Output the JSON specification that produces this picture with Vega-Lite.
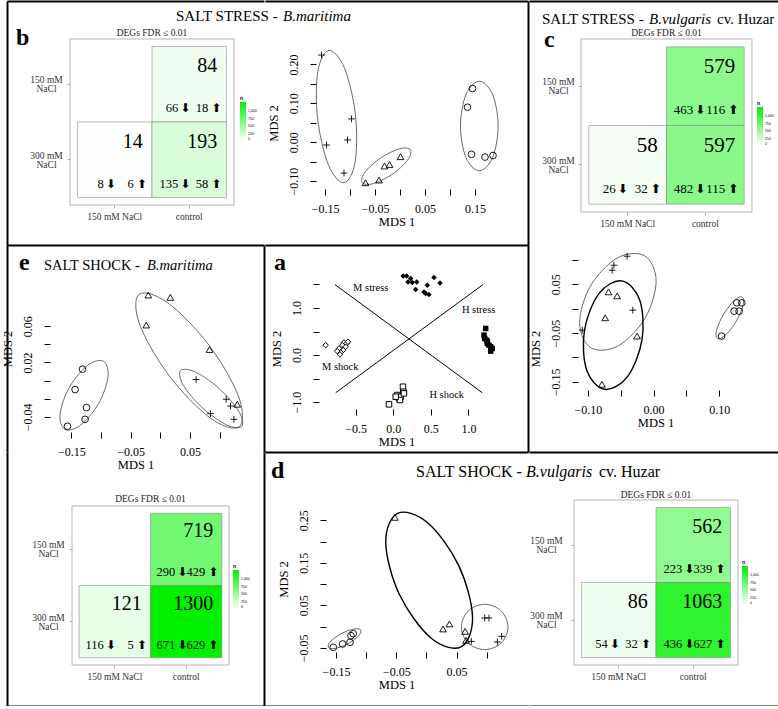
{
"$schema": "https://vega.github.io/schema/vega-lite/v6.json",
"padding": 0,
"background": "white",
"columns": 6,
"align": "each",
"spacing": 0,
"bounds": "flush",
"resolve": {"scale": {"color": "independent", "shape": "independent"}, "legend": {"color": "independent", "shape": "independent"}},
"config": {
 "view": {"stroke": null},
 "font": "Liberation Serif",
 "title": {"font": "Liberation Serif", "fontWeight": "normal", "color": "black"},
 "axis": {"labelFont": "Liberation Serif", "titleFont": "Liberation Serif", "labelColor": "black", "titleColor": "black", "tickColor": "black", "labelFontSize": 12, "titleFontSize": 12.5, "titleFontWeight": "normal"}
},
"datasets": {
 "b_heat": [
  {"col": "control", "row": "150 mM NaCl", "n": 84, "down": 66, "up": 18},
  {"col": "150 mM NaCl", "row": "300 mM NaCl", "n": 14, "down": 8, "up": 6},
  {"col": "control", "row": "300 mM NaCl", "n": 193, "down": 135, "up": 58}
 ],
 "c_heat": [
  {"col": "control", "row": "150 mM NaCl", "n": 579, "down": 463, "up": 116},
  {"col": "150 mM NaCl", "row": "300 mM NaCl", "n": 58, "down": 26, "up": 32},
  {"col": "control", "row": "300 mM NaCl", "n": 597, "down": 482, "up": 115}
 ],
 "e_heat": [
  {"col": "control", "row": "150 mM NaCl", "n": 719, "down": 290, "up": 429},
  {"col": "150 mM NaCl", "row": "300 mM NaCl", "n": 121, "down": 116, "up": 5},
  {"col": "control", "row": "300 mM NaCl", "n": 1300, "down": 671, "up": 629}
 ],
 "d_heat": [
  {"col": "control", "row": "150 mM NaCl", "n": 562, "down": 223, "up": 339},
  {"col": "150 mM NaCl", "row": "300 mM NaCl", "n": 86, "down": 54, "up": 32},
  {"col": "control", "row": "300 mM NaCl", "n": 1063, "down": 436, "up": 627}
 ],
 "b_pts": [
  {"x": -0.157, "y": 0.224, "g": "150 mM NaCl"}, {"x": -0.147, "y": -0.007, "g": "150 mM NaCl"}, {"x": -0.105, "y": 0.006, "g": "150 mM NaCl"}, {"x": -0.097, "y": 0.060, "g": "150 mM NaCl"}, {"x": -0.112, "y": -0.079, "g": "150 mM NaCl"},
  {"x": -0.069, "y": -0.104, "g": "300 mM NaCl"}, {"x": -0.042, "y": -0.097, "g": "300 mM NaCl"}, {"x": -0.031, "y": -0.061, "g": "300 mM NaCl"}, {"x": -0.021, "y": -0.057, "g": "300 mM NaCl"}, {"x": 0.001, "y": -0.037, "g": "300 mM NaCl"},
  {"x": 0.135, "y": 0.090, "g": "control"}, {"x": 0.145, "y": 0.138, "g": "control"}, {"x": 0.143, "y": -0.031, "g": "control"}, {"x": 0.170, "y": -0.038, "g": "control"}, {"x": 0.186, "y": -0.034, "g": "control"}
 ],
 "b_ell": [
  {"g": "150 mM NaCl", "k": 0, "x": -0.112, "y": -0.104}, {"g": "150 mM NaCl", "k": 1, "x": -0.0897, "y": -0.0504}, {"g": "150 mM NaCl", "k": 2, "x": -0.0892, "y": 0.0714}, {"g": "150 mM NaCl", "k": 3, "x": -0.1109, "y": 0.190}, {"g": "150 mM NaCl", "k": 4, "x": -0.142, "y": 0.236}, {"g": "150 mM NaCl", "k": 5, "x": -0.1643, "y": 0.1824}, {"g": "150 mM NaCl", "k": 6, "x": -0.1648, "y": 0.0606}, {"g": "150 mM NaCl", "k": 7, "x": -0.1431, "y": -0.058},
  {"g": "300 mM NaCl", "k": 0, "x": 0.0210, "y": -0.0195}, {"g": "300 mM NaCl", "k": 1, "x": 0.0147, "y": -0.0469}, {"g": "300 mM NaCl", "k": 2, "x": -0.0162, "y": -0.0828}, {"g": "300 mM NaCl", "k": 3, "x": -0.0537, "y": -0.1063}, {"g": "300 mM NaCl", "k": 4, "x": -0.0758, "y": -0.1035}, {"g": "300 mM NaCl", "k": 5, "x": -0.0695, "y": -0.0761}, {"g": "300 mM NaCl", "k": 6, "x": -0.0386, "y": -0.0402}, {"g": "300 mM NaCl", "k": 7, "x": -0.0011, "y": -0.0167},
  {"g": "control", "k": 0, "x": 0.1586, "y": 0.1567}, {"g": "control", "k": 1, "x": 0.1852, "y": 0.1230}, {"g": "control", "k": 2, "x": 0.1962, "y": 0.0418}, {"g": "control", "k": 3, "x": 0.1852, "y": -0.0394}, {"g": "control", "k": 4, "x": 0.1586, "y": -0.0731}, {"g": "control", "k": 5, "x": 0.1320, "y": -0.0394}, {"g": "control", "k": 6, "x": 0.1210, "y": 0.0418}, {"g": "control", "k": 7, "x": 0.1320, "y": 0.1230}
 ],
 "c_pts": [
  {"x": -0.0403, "y": 0.1073, "g": "150 mM NaCl"}, {"x": -0.0605, "y": 0.0889, "g": "150 mM NaCl"}, {"x": -0.0631, "y": 0.0786, "g": "150 mM NaCl"}, {"x": -0.0316, "y": -0.0032, "g": "150 mM NaCl"}, {"x": -0.1087, "y": -0.0441, "g": "150 mM NaCl"},
  {"x": -0.0687, "y": 0.0343, "g": "300 mM NaCl"}, {"x": -0.0555, "y": 0.0261, "g": "300 mM NaCl"}, {"x": -0.0737, "y": -0.0189, "g": "300 mM NaCl"}, {"x": -0.0251, "y": -0.0563, "g": "300 mM NaCl"}, {"x": -0.0787, "y": -0.1551, "g": "300 mM NaCl"},
  {"x": 0.1269, "y": 0.0118, "g": "control"}, {"x": 0.1345, "y": 0.0118, "g": "control"}, {"x": 0.1228, "y": -0.0052, "g": "control"}, {"x": 0.1304, "y": -0.0052, "g": "control"}, {"x": 0.1036, "y": -0.0563, "g": "control"}
 ],
 "c_ell": [
  {"g": "150 mM NaCl", "k": 0, "x": -0.0138, "y": 0.1083}, {"g": "150 mM NaCl", "k": 1, "x": 0.0039, "y": 0.0576}, {"g": "150 mM NaCl", "k": 2, "x": -0.0126, "y": -0.0187}, {"g": "150 mM NaCl", "k": 3, "x": -0.0535, "y": -0.0760}, {"g": "150 mM NaCl", "k": 4, "x": -0.0950, "y": -0.0807}, {"g": "150 mM NaCl", "k": 5, "x": -0.1127, "y": -0.0300}, {"g": "150 mM NaCl", "k": 6, "x": -0.0962, "y": 0.0463}, {"g": "150 mM NaCl", "k": 7, "x": -0.0553, "y": 0.1036},
  {"g": "300 mM NaCl", "k": 0, "x": -0.0483, "y": 0.0567}, {"g": "300 mM NaCl", "k": 1, "x": -0.0211, "y": 0.0176}, {"g": "300 mM NaCl", "k": 2, "x": -0.0176, "y": -0.0637}, {"g": "300 mM NaCl", "k": 3, "x": -0.0397, "y": -0.1394}, {"g": "300 mM NaCl", "k": 4, "x": -0.0747, "y": -0.1653}, {"g": "300 mM NaCl", "k": 5, "x": -0.1019, "y": -0.1262}, {"g": "300 mM NaCl", "k": 6, "x": -0.1054, "y": -0.0449}, {"g": "300 mM NaCl", "k": 7, "x": -0.0833, "y": 0.0308},
  {"g": "control", "k": 0, "x": 0.1353, "y": 0.0236}, {"g": "control", "k": 1, "x": 0.1364, "y": 0.0058}, {"g": "control", "k": 2, "x": 0.1258, "y": -0.0266}, {"g": "control", "k": 3, "x": 0.1096, "y": -0.0544}, {"g": "control", "k": 4, "x": 0.0973, "y": -0.0614}, {"g": "control", "k": 5, "x": 0.0962, "y": -0.0436}, {"g": "control", "k": 6, "x": 0.1068, "y": -0.0112}, {"g": "control", "k": 7, "x": 0.1230, "y": 0.0166}
 ],
 "e_pts": [
  {"x": -0.0203, "y": 0.0943, "g": "300 mM NaCl"}, {"x": 0.0169, "y": 0.0917, "g": "300 mM NaCl"}, {"x": -0.0237, "y": 0.0612, "g": "300 mM NaCl"}, {"x": 0.0830, "y": 0.0343, "g": "300 mM NaCl"}, {"x": 0.1298, "y": -0.0260, "g": "300 mM NaCl"},
  {"x": 0.0604, "y": 0.0012, "g": "150 mM NaCl"}, {"x": 0.1112, "y": -0.0205, "g": "150 mM NaCl"}, {"x": 0.1185, "y": -0.0279, "g": "150 mM NaCl"}, {"x": 0.0846, "y": -0.0363, "g": "150 mM NaCl"}, {"x": 0.1242, "y": -0.0426, "g": "150 mM NaCl"},
  {"x": -0.1314, "y": 0.0126, "g": "control"}, {"x": -0.1439, "y": -0.0098, "g": "control"}, {"x": -0.1246, "y": -0.0297, "g": "control"}, {"x": -0.1270, "y": -0.0426, "g": "control"}, {"x": -0.1568, "y": -0.0503, "g": "control"}
 ],
 "e_ell": [
  {"g": "300 mM NaCl", "k": 0, "x": 0.1329, "y": -0.0508}, {"g": "300 mM NaCl", "k": 1, "x": 0.0842, "y": -0.0411}, {"g": "300 mM NaCl", "k": 2, "x": 0.0147, "y": 0.0056}, {"g": "300 mM NaCl", "k": 3, "x": -0.0350, "y": 0.0621}, {"g": "300 mM NaCl", "k": 4, "x": -0.0357, "y": 0.0952}, {"g": "300 mM NaCl", "k": 5, "x": 0.0130, "y": 0.0855}, {"g": "300 mM NaCl", "k": 6, "x": 0.0825, "y": 0.0388}, {"g": "300 mM NaCl", "k": 7, "x": 0.1322, "y": -0.0177},
  {"g": "150 mM NaCl", "k": 0, "x": 0.1374, "y": -0.0504}, {"g": "150 mM NaCl", "k": 1, "x": 0.1120, "y": -0.0488}, {"g": "150 mM NaCl", "k": 2, "x": 0.0713, "y": -0.0301}, {"g": "150 mM NaCl", "k": 3, "x": 0.0390, "y": -0.0054}, {"g": "150 mM NaCl", "k": 4, "x": 0.0342, "y": 0.0110}, {"g": "150 mM NaCl", "k": 5, "x": 0.0596, "y": 0.0094}, {"g": "150 mM NaCl", "k": 6, "x": 0.1003, "y": -0.0093}, {"g": "150 mM NaCl", "k": 7, "x": 0.1326, "y": -0.0340},
  {"g": "control", "k": 0, "x": -0.0960, "y": 0.0214}, {"g": "control", "k": 1, "x": -0.0883, "y": 0.0040}, {"g": "control", "k": 2, "x": -0.1042, "y": -0.0252}, {"g": "control", "k": 3, "x": -0.1345, "y": -0.0490}, {"g": "control", "k": 4, "x": -0.1614, "y": -0.0536}, {"g": "control", "k": 5, "x": -0.1691, "y": -0.0362}, {"g": "control", "k": 6, "x": -0.1532, "y": -0.0070}, {"g": "control", "k": 7, "x": -0.1229, "y": 0.0168}
 ],
 "d_pts": [
  {"x": -0.0523, "y": 0.2571, "g": "300 mM NaCl"}, {"x": 0.0276, "y": -0.0057, "g": "300 mM NaCl"}, {"x": 0.0381, "y": 0.0061, "g": "300 mM NaCl"}, {"x": 0.0641, "y": -0.0114, "g": "300 mM NaCl"}, {"x": 0.0657, "y": -0.0326, "g": "300 mM NaCl"},
  {"x": 0.0967, "y": 0.0202, "g": "150 mM NaCl"}, {"x": 0.1038, "y": 0.0202, "g": "150 mM NaCl"}, {"x": 0.0745, "y": -0.0349, "g": "150 mM NaCl"}, {"x": 0.1176, "y": -0.0363, "g": "150 mM NaCl"}, {"x": 0.1248, "y": -0.0231, "g": "150 mM NaCl"},
  {"x": -0.1545, "y": -0.0490, "g": "control"}, {"x": -0.1391, "y": -0.0410, "g": "control"}, {"x": -0.1268, "y": -0.0373, "g": "control"}, {"x": -0.1252, "y": -0.0215, "g": "control"}, {"x": -0.1214, "y": -0.0168, "g": "control"}
 ],
 "d_ell": [
  {"g": "300 mM NaCl", "k": 0, "x": 0.0568, "y": -0.0484}, {"g": "300 mM NaCl", "k": 1, "x": 0.0065, "y": -0.0258}, {"g": "300 mM NaCl", "k": 2, "x": -0.0450, "y": 0.0759}, {"g": "300 mM NaCl", "k": 3, "x": -0.0675, "y": 0.1970}, {"g": "300 mM NaCl", "k": 4, "x": -0.0478, "y": 0.2666}, {"g": "300 mM NaCl", "k": 5, "x": 0.0025, "y": 0.2440}, {"g": "300 mM NaCl", "k": 6, "x": 0.0540, "y": 0.1423}, {"g": "300 mM NaCl", "k": 7, "x": 0.0765, "y": 0.0212},
  {"g": "150 mM NaCl", "k": 0, "x": 0.1353, "y": -0.0010}, {"g": "150 mM NaCl", "k": 1, "x": 0.1240, "y": -0.0388}, {"g": "150 mM NaCl", "k": 2, "x": 0.0967, "y": -0.0544}, {"g": "150 mM NaCl", "k": 3, "x": 0.0694, "y": -0.0388}, {"g": "150 mM NaCl", "k": 4, "x": 0.0581, "y": -0.0010}, {"g": "150 mM NaCl", "k": 5, "x": 0.0694, "y": 0.0368}, {"g": "150 mM NaCl", "k": 6, "x": 0.0967, "y": 0.0524}, {"g": "150 mM NaCl", "k": 7, "x": 0.1240, "y": 0.0368},
  {"g": "control", "k": 0, "x": -0.1088, "y": -0.0086}, {"g": "control", "k": 1, "x": -0.1134, "y": -0.0233}, {"g": "control", "k": 2, "x": -0.1312, "y": -0.0411}, {"g": "control", "k": 3, "x": -0.1516, "y": -0.0515}, {"g": "control", "k": 4, "x": -0.1628, "y": -0.0486}, {"g": "control", "k": 5, "x": -0.1582, "y": -0.0339}, {"g": "control", "k": 6, "x": -0.1404, "y": -0.0161}, {"g": "control", "k": 7, "x": -0.1200, "y": -0.0057}
 ],
 "a_pts": [
  {"x": 0.133, "y": 1.680, "g": "M stress"}, {"x": 0.178, "y": 1.680, "g": "M stress"}, {"x": 0.232, "y": 1.625, "g": "M stress"}, {"x": 0.196, "y": 1.553, "g": "M stress"}, {"x": 0.253, "y": 1.540, "g": "M stress"}, {"x": 0.312, "y": 1.553, "g": "M stress"}, {"x": 0.298, "y": 1.392, "g": "M stress"}, {"x": 0.453, "y": 1.483, "g": "M stress"}, {"x": 0.542, "y": 1.646, "g": "M stress"}, {"x": 0.622, "y": 1.532, "g": "M stress"}, {"x": 0.431, "y": 1.307, "g": "M stress"}, {"x": 0.475, "y": 1.286, "g": "M stress"}, {"x": 0.409, "y": 1.341, "g": "M stress"},
  {"x": 1.230, "y": 0.566, "g": "H stress"}, {"x": 1.208, "y": 0.424, "g": "H stress"}, {"x": 1.243, "y": 0.318, "g": "H stress"}, {"x": 1.252, "y": 0.248, "g": "H stress"}, {"x": 1.274, "y": 0.212, "g": "H stress"}, {"x": 1.297, "y": 0.176, "g": "H stress"}, {"x": 1.318, "y": 0.142, "g": "H stress"}, {"x": 1.297, "y": 0.085, "g": "H stress"}, {"x": 1.252, "y": 0.282, "g": "H stress"}, {"x": 1.217, "y": 0.354, "g": "H stress"},
  {"x": -0.900, "y": 0.212, "g": "M shock"}, {"x": -0.656, "y": 0.269, "g": "M shock"}, {"x": -0.621, "y": 0.248, "g": "M shock"}, {"x": -0.679, "y": 0.212, "g": "M shock"}, {"x": -0.634, "y": 0.176, "g": "M shock"}, {"x": -0.723, "y": 0.142, "g": "M shock"}, {"x": -0.666, "y": 0.106, "g": "M shock"}, {"x": -0.700, "y": 0.057, "g": "M shock"}, {"x": -0.746, "y": 0.085, "g": "M shock"}, {"x": -0.710, "y": 0.015, "g": "M shock"}, {"x": -0.603, "y": 0.282, "g": "M shock"},
  {"x": 0.129, "y": -0.671, "g": "H shock"}, {"x": 0.133, "y": -0.777, "g": "H shock"}, {"x": 0.053, "y": -0.847, "g": "H shock"}, {"x": 0.076, "y": -0.918, "g": "H shock"}, {"x": 0.098, "y": -0.883, "g": "H shock"}, {"x": 0.089, "y": -0.953, "g": "H shock"}, {"x": 0.142, "y": -0.812, "g": "H shock"}, {"x": 0.032, "y": -0.883, "g": "H shock"}, {"x": -0.057, "y": -1.045, "g": "H shock"}
 ],
 "a_lines": [
  {"x": -0.776, "y": 1.497, "x2": 1.185, "y2": -0.799},
  {"x": -0.767, "y": -0.799, "x2": 1.194, "y2": 1.497}
 ],
 "a_lab": [
  {"x": -0.30, "y": 1.42, "label": "M stress"},
  {"x": 1.137, "y": 0.953, "label": "H stress"},
  {"x": -0.706, "y": -0.254, "label": "M shock"},
  {"x": 0.712, "y": -0.854, "label": "H shock"}
 ]
},
"concat": [
 {"width": 0.01, "height": 0.01, "data": {"values": []}, "mark": "point", "title": {"text": "SALT STRESS -", "orient": "bottom", "anchor": "start", "frame": "group", "dx": 170, "offset": 21, "baseline": "alphabetic", "fontSize": 15}},
 {"width": 0.01, "height": 0.01, "data": {"values": []}, "mark": "point", "title": {"text": "b", "orient": "bottom", "anchor": "start", "frame": "group", "dx": 9, "offset": 45, "baseline": "alphabetic", "fontSize": 24, "fontWeight": "bold"}},
 {"width": 0.01, "height": 0.01, "data": {"values": []}, "mark": "point", "title": {"text": "B.maritima", "orient": "bottom", "anchor": "start", "frame": "group", "dx": 19, "offset": 21, "baseline": "alphabetic", "fontSize": 15, "fontStyle": "italic"}},
 {"width": 0.01, "height": 0.01, "data": {"values": []}, "mark": "point", "title": {"text": "SALT STRESS -", "orient": "bottom", "anchor": "start", "frame": "group", "dx": 277, "offset": 24, "baseline": "alphabetic", "fontSize": 15}},
 {"width": 0.01, "height": 0.01, "data": {"values": []}, "mark": "point", "title": {"text": "B.vulgaris", "orient": "bottom", "anchor": "start", "frame": "group", "dx": 121, "offset": 24, "baseline": "alphabetic", "fontSize": 15, "fontStyle": "italic"}},
 {"width": 0.01, "height": 0.01, "data": {"values": []}, "mark": "point", "title": {"text": "cv. Huzar", "orient": "bottom", "anchor": "start", "frame": "group", "dx": 188, "offset": 24, "baseline": "alphabetic", "fontSize": 15}},

 {"width": 0.01, "height": 0.01, "data": {"values": []}, "mark": "point", "title": {"text": "SALT SHOCK -", "orient": "bottom", "anchor": "start", "frame": "group", "dx": 38, "offset": 269, "baseline": "alphabetic", "fontSize": 14.5}},
 {"width": 257, "height": 244, "data": {"name": "b_heat"},
  "resolve": {"axis": {"x": "independent", "y": "independent"}},
  "encoding": {
   "x": {"field": "col", "type": "nominal", "scale": {"domain": ["150 mM NaCl", "control"], "paddingInner": 0, "paddingOuter": 0.7237, "align": 0.6529}, "axis": null},
   "y": {"field": "row", "type": "nominal", "scale": {"domain": ["150 mM NaCl", "300 mM NaCl"], "paddingInner": 0, "paddingOuter": 0.617, "align": 0.4893}, "axis": null}
  },
  "layer": [
   {"data": {"values": [{}]}, "mark": {"type": "rect", "fill": "transparent", "stroke": "#b5b5b5", "strokeWidth": 1}, "encoding": {"x": {"datum": "150 mM NaCl", "type": "nominal", "bandPosition": -0.1, "axis": null}, "x2": {"datum": "control", "bandPosition": 1.1}, "y": {"datum": "150 mM NaCl", "type": "nominal", "bandPosition": -0.1, "axis": null}, "y2": {"datum": "300 mM NaCl", "bandPosition": 1.1}}},
   {"mark": {"type": "rect", "stroke": "#8c8c8c", "strokeWidth": 0.6},
    "encoding": {
     "x": {"field": "col", "type": "nominal", "axis": {"orient": "bottom", "offset": -40, "title": null, "labelAngle": 0, "labelFont": "Liberation Serif", "labelFontSize": 9.5, "labelColor": "#333", "labelPadding": 3, "tickSize": 3, "tickColor": "#aaa", "domain": false, "grid": false, "bandPosition": 0.5}},
     "y": {"field": "row", "type": "nominal", "axis": {"orient": "left", "offset": -63, "title": null, "labelExpr": "[slice(datum.label, 0, 6), 'NaCl']", "labelAlign": "center", "labelBaseline": "middle", "labelLineHeight": 9, "labelOffset": -4, "labelFont": "Liberation Serif", "labelFontSize": 9.5, "labelColor": "#333", "labelPadding": 21, "tickSize": 3, "tickColor": "#aaa", "domain": false, "grid": false, "bandPosition": 0.5}},
     "color": {"field": "n", "type": "quantitative", "scale": {"domain": [0, 1300], "range": ["#ffffff", "#00f000"], "interpolate": "rgb"}, "legend": {"title": "n", "orient": "none", "legendX": 233, "legendY": 95, "direction": "vertical", "gradientLength": 39, "gradientThickness": 6, "values": [0, 250, 500, 750, 1000], "titleFontSize": 5, "titleFont": "Liberation Sans", "titlePadding": 1, "labelFontSize": 3.5, "labelFont": "Liberation Sans", "labelOffset": 2, "padding": 0, "gradientStrokeWidth": 0, "labelOverlap": false}}
    }},
   {"mark": {"type": "text", "align": "right", "baseline": "alphabetic", "dx": 28, "dy": -12, "fontSize": 20, "font": "Liberation Serif"}, "encoding": {"text": {"field": "n", "type": "nominal"}}},
   {"mark": {"type": "text", "align": "right", "baseline": "alphabetic", "dx": -11, "dy": 28, "fontSize": 12.5, "font": "Liberation Serif"}, "encoding": {"text": {"field": "down", "type": "nominal"}}},
   {"mark": {"type": "text", "align": "center", "baseline": "alphabetic", "dx": -4, "dy": 28, "fontSize": 12, "font": "DejaVu Sans", "text": "⬇"}},
   {"mark": {"type": "text", "align": "right", "baseline": "alphabetic", "dx": 19, "dy": 28, "fontSize": 12.5, "font": "Liberation Serif"}, "encoding": {"text": {"field": "up", "type": "nominal"}}},
   {"mark": {"type": "text", "align": "center", "baseline": "alphabetic", "dx": 27, "dy": 28, "fontSize": 12, "font": "DejaVu Sans", "text": "⬆"}},
   {"mark": {"type": "point", "opacity": 0}, "encoding": {"x": {"field": "col", "type": "nominal", "axis": {"orient": "top", "offset": 0, "domain": true, "domainColor": "black", "domainWidth": 2, "ticks": false, "labels": false, "title": null, "grid": false}}, "y": {"field": "row", "type": "nominal", "axis": {"orient": "left", "offset": 0, "domain": true, "domainColor": "black", "domainWidth": 2, "ticks": false, "labels": false, "title": null, "grid": false}}}},
   {"mark": {"type": "point", "opacity": 0}, "encoding": {"x": {"field": "col", "type": "nominal", "axis": {"orient": "bottom", "offset": 0, "domain": true, "domainColor": "black", "domainWidth": 2, "ticks": false, "labels": false, "title": null, "grid": false}}}}
  ],
  "title": {"text": "DEGs FDR ≤ 0.01", "orient": "top", "anchor": "start", "align": "center", "frame": "group", "dx": 145, "offset": -44, "baseline": "alphabetic", "fontSize": 9.5, "color": "#222"}
 },
 {"width": 0.01, "height": 0.01, "data": {"values": []}, "mark": "point", "title": {"text": "B.maritima", "orient": "bottom", "anchor": "start", "frame": "group", "dx": -117, "offset": 269, "baseline": "alphabetic", "fontSize": 14.5, "fontStyle": "italic"}},
 {"width": 263, "height": 244,
  "resolve": {"axis": {"x": "independent", "y": "independent"}},
  "encoding": {
   "x": {"field": "x", "type": "quantitative", "scale": {"domain": [-0.27, 0.256], "nice": false, "zero": false}, "axis": null},
   "y": {"field": "y", "type": "quantitative", "scale": {"domain": [-0.2638, 0.3628], "nice": false, "zero": false}, "axis": null}
  },
  "layer": [
   {"data": {"values": [{}]}, "mark": {"type": "rect", "fill": "transparent", "stroke": "black", "strokeWidth": 1}, "encoding": {"x": {"datum": -0.168, "type": "quantitative", "axis": null}, "x2": {"datum": 0.2}, "y": {"datum": -0.12, "type": "quantitative", "axis": null}, "y2": {"datum": 0.237}}},
   {"data": {"name": "b_ell"}, "mark": {"type": "line", "interpolate": "cardinal-closed", "stroke": "#444", "strokeWidth": 0.8},
    "encoding": {
     "x": {"field": "x", "type": "quantitative", "axis": {"orient": "bottom", "offset": -56, "title": "MDS 1", "values": [-0.15, -0.1, -0.05, 0, 0.05, 0.1, 0.15], "labelExpr": "indexof([-0.15, -0.05, 0.05, 0.15], datum.value) >= 0 ? format(datum.value, '.2f') : ''", "labelFont": "Liberation Serif", "labelFontSize": 12, "titleFont": "Liberation Serif", "titleFontSize": 12.5, "titleFontWeight": "normal", "tickSize": 6, "labelPadding": 8, "domain": false, "grid": false, "titlePadding": 1, "labelOverlap": false, "labelFlush": false}},
     "y": {"field": "y", "type": "quantitative", "axis": {"orient": "left", "offset": -51, "title": "MDS 2", "values": [-0.1, -0.05, 0, 0.05, 0.1, 0.15, 0.2], "labelExpr": "indexof([-0.1, 0, 0.1, 0.2], datum.value) >= 0 ? format(datum.value, '.2f') : ''", "labelAngle": -90, "labelAlign": "center", "labelBaseline": "bottom", "labelFont": "Liberation Serif", "labelFontSize": 12, "titleFont": "Liberation Serif", "titleFontSize": 12.5, "titleFontWeight": "normal", "tickSize": 6, "labelPadding": 10, "domain": false, "grid": false, "titlePadding": 7, "labelOverlap": false, "labelFlush": false}},
     "detail": {"field": "g", "type": "nominal"}, "order": {"field": "k", "type": "quantitative"}
    }},
   {"data": {"name": "b_pts"}, "mark": {"type": "point", "filled": false, "stroke": "black", "strokeWidth": 0.9, "size": 45, "opacity": 1}, "encoding": {"shape": {"field": "g", "type": "nominal", "scale": {"domain": ["150 mM NaCl", "300 mM NaCl", "control"], "range": ["M-1,0L1,0M0,-1L0,1", "triangle-up", "circle"]}, "legend": null}}},
   {"data": {"name": "b_pts"}, "mark": {"type": "point", "opacity": 0}, "encoding": {"x": {"field": "x", "type": "quantitative", "axis": {"orient": "top", "offset": 0, "domain": true, "domainColor": "black", "domainWidth": 2, "ticks": false, "labels": false, "title": null, "grid": false}}, "y": {"field": "y", "type": "quantitative", "axis": {"orient": "right", "offset": 0, "domain": true, "domainColor": "black", "domainWidth": 2, "ticks": false, "labels": false, "title": null, "grid": false}}}},
   {"data": {"name": "b_pts"}, "mark": {"type": "point", "opacity": 0}, "encoding": {"x": {"field": "x", "type": "quantitative", "axis": {"orient": "bottom", "offset": 0, "domain": true, "domainColor": "black", "domainWidth": 2, "ticks": false, "labels": false, "title": null, "grid": false}}}}
  ]
 },
 {"width": 0.01, "height": 0.01, "data": {"values": []}, "mark": "point", "title": {"text": "c", "orient": "bottom", "anchor": "start", "frame": "group", "dx": 16, "offset": 46, "baseline": "alphabetic", "fontSize": 24, "fontWeight": "bold"}},
 {"width": 253, "height": 244, "data": {"name": "c_heat"},
  "resolve": {"axis": {"x": "independent", "y": "independent"}},
  "encoding": {
   "x": {"field": "col", "type": "nominal", "scale": {"domain": ["150 mM NaCl", "control"], "paddingInner": 0, "paddingOuter": 0.6275, "align": 0.6127}, "axis": null},
   "y": {"field": "row", "type": "nominal", "scale": {"domain": ["150 mM NaCl", "300 mM NaCl"], "paddingInner": 0, "paddingOuter": 0.5515, "align": 0.5288}, "axis": null}
  },
  "layer": [
   {"data": {"values": [{}]}, "mark": {"type": "rect", "fill": "transparent", "stroke": "#b5b5b5", "strokeWidth": 1}, "encoding": {"x": {"datum": "150 mM NaCl", "type": "nominal", "bandPosition": -0.1, "axis": null}, "x2": {"datum": "control", "bandPosition": 1.1}, "y": {"datum": "150 mM NaCl", "type": "nominal", "bandPosition": -0.1, "axis": null}, "y2": {"datum": "300 mM NaCl", "bandPosition": 1.1}}},
   {"mark": {"type": "rect", "stroke": "#8c8c8c", "strokeWidth": 0.6},
    "encoding": {
     "x": {"field": "col", "type": "nominal", "axis": {"orient": "bottom", "offset": -33, "title": null, "labelAngle": 0, "labelFont": "Liberation Serif", "labelFontSize": 9.5, "labelColor": "#333", "labelPadding": 3, "tickSize": 3, "tickColor": "#aaa", "domain": false, "grid": false, "bandPosition": 0.5}},
     "y": {"field": "row", "type": "nominal", "axis": {"orient": "left", "offset": -52, "title": null, "labelExpr": "[slice(datum.label, 0, 6), 'NaCl']", "labelAlign": "center", "labelBaseline": "middle", "labelLineHeight": 9, "labelOffset": -4, "labelFont": "Liberation Serif", "labelFontSize": 9.5, "labelColor": "#333", "labelPadding": 20, "tickSize": 3, "tickColor": "#aaa", "domain": false, "grid": false, "bandPosition": 0.5}},
     "color": {"field": "n", "type": "quantitative", "scale": {"domain": [0, 1300], "range": ["#ffffff", "#00f000"], "interpolate": "rgb"}, "legend": {"title": "n", "orient": "none", "legendX": 228, "legendY": 100, "direction": "vertical", "gradientLength": 39, "gradientThickness": 6, "values": [0, 250, 500, 750, 1000], "titleFontSize": 5, "titleFont": "Liberation Sans", "titlePadding": 1, "labelFontSize": 3.5, "labelFont": "Liberation Sans", "labelOffset": 2, "padding": 0, "gradientStrokeWidth": 0, "labelOverlap": false}}
    }},
   {"mark": {"type": "text", "align": "right", "baseline": "alphabetic", "dx": 30, "dy": -13, "fontSize": 21, "font": "Liberation Serif"}, "encoding": {"text": {"field": "n", "type": "nominal"}}},
   {"mark": {"type": "text", "align": "right", "baseline": "alphabetic", "dx": -12, "dy": 28, "fontSize": 13, "font": "Liberation Serif"}, "encoding": {"text": {"field": "down", "type": "nominal"}}},
   {"mark": {"type": "text", "align": "center", "baseline": "alphabetic", "dx": -5, "dy": 28, "fontSize": 12.5, "font": "DejaVu Sans", "text": "⬇"}},
   {"mark": {"type": "text", "align": "right", "baseline": "alphabetic", "dx": 20, "dy": 28, "fontSize": 13, "font": "Liberation Serif"}, "encoding": {"text": {"field": "up", "type": "nominal"}}},
   {"mark": {"type": "text", "align": "center", "baseline": "alphabetic", "dx": 28, "dy": 28, "fontSize": 12.5, "font": "DejaVu Sans", "text": "⬆"}},
   {"mark": {"type": "point", "opacity": 0}, "encoding": {"x": {"field": "col", "type": "nominal", "axis": {"orient": "top", "offset": 0, "domain": true, "domainColor": "black", "domainWidth": 2, "ticks": false, "labels": false, "title": null, "grid": false}}, "y": {"field": "row", "type": "nominal", "axis": {"orient": "right", "offset": 0, "domain": true, "domainColor": "black", "domainWidth": 2, "ticks": false, "labels": false, "title": null, "grid": false}}}}
  ],
  "title": {"text": "DEGs FDR ≤ 0.01", "orient": "top", "anchor": "start", "align": "center", "frame": "group", "dx": 137.5, "offset": -44, "baseline": "alphabetic", "fontSize": 9.5, "color": "#222"}
 },

 {"width": 0.01, "height": 0.01, "data": {"values": []}, "mark": "point", "title": {"text": "e", "orient": "bottom", "anchor": "start", "frame": "group", "dx": 13, "offset": 25, "baseline": "alphabetic", "fontSize": 24, "fontWeight": "bold"}},
 {"width": 257, "height": 207,
  "resolve": {"axis": {"x": "independent", "y": "independent"}},
  "encoding": {
   "x": {"field": "x", "type": "quantitative", "scale": {"domain": [-0.2588, 0.175], "nice": false, "zero": false}, "axis": null},
   "y": {"field": "y", "type": "quantitative", "scale": {"domain": [-0.0786, 0.1494], "nice": false, "zero": false}, "axis": null}
  },
  "layer": [
   {"data": {"values": [{}]}, "mark": {"type": "rect", "fill": "transparent", "stroke": "black", "strokeWidth": 1}, "encoding": {"x": {"datum": -0.1862, "type": "quantitative", "axis": null}, "x2": {"datum": 0.1412}, "y": {"datum": -0.0566, "type": "quantitative", "axis": null}, "y2": {"datum": 0.0987}}},
   {"data": {"name": "e_ell"}, "mark": {"type": "line", "interpolate": "cardinal-closed", "stroke": "#444", "strokeWidth": 0.8},
    "encoding": {
     "x": {"field": "x", "type": "quantitative", "axis": {"orient": "bottom", "offset": -20, "title": "MDS 1", "values": [-0.15, -0.1, -0.05, 0, 0.05, 0.1], "labelExpr": "indexof([-0.15, -0.05, 0.05], datum.value) >= 0 ? format(datum.value, '.2f') : ''", "labelFont": "Liberation Serif", "labelFontSize": 12, "titleFont": "Liberation Serif", "titleFontSize": 12.5, "titleFontWeight": "normal", "tickSize": 6, "labelPadding": 8, "domain": false, "grid": false, "titlePadding": 1, "labelOverlap": false, "labelFlush": false}},
     "y": {"field": "y", "type": "quantitative", "axis": {"orient": "left", "offset": -43, "title": "MDS 2", "values": [-0.04, -0.02, 0, 0.02, 0.04, 0.06], "labelExpr": "indexof([-0.04, 0.02, 0.06], datum.value) >= 0 ? format(datum.value, '.2f') : ''", "labelAngle": -90, "labelAlign": "center", "labelBaseline": "bottom", "labelFont": "Liberation Serif", "labelFontSize": 12, "titleFont": "Liberation Serif", "titleFontSize": 12.5, "titleFontWeight": "normal", "tickSize": 6, "labelPadding": 10, "domain": false, "grid": false, "titlePadding": 7, "labelOverlap": false, "labelFlush": false}},
     "detail": {"field": "g", "type": "nominal"}, "order": {"field": "k", "type": "quantitative"}
    }},
   {"data": {"name": "e_pts"}, "mark": {"type": "point", "filled": false, "stroke": "black", "strokeWidth": 0.9, "size": 45, "opacity": 1}, "encoding": {"shape": {"field": "g", "type": "nominal", "scale": {"domain": ["150 mM NaCl", "300 mM NaCl", "control"], "range": ["M-1,0L1,0M0,-1L0,1", "triangle-up", "circle"]}, "legend": null}}},
   {"data": {"name": "e_pts"}, "mark": {"type": "point", "opacity": 0}, "encoding": {"y": {"field": "y", "type": "quantitative", "axis": {"orient": "left", "offset": 0, "domain": true, "domainColor": "black", "domainWidth": 2, "ticks": false, "labels": false, "title": null, "grid": false}}}},
   {"data": {"name": "e_pts"}, "mark": {"type": "point", "opacity": 0}, "encoding": {"y": {"field": "y", "type": "quantitative", "axis": {"orient": "right", "offset": 0, "domain": true, "domainColor": "black", "domainWidth": 2, "ticks": false, "labels": false, "title": null, "grid": false}}}}
  ]
 },
 {"width": 0.01, "height": 0.01, "data": {"values": []}, "mark": "point", "title": {"text": "a", "orient": "bottom", "anchor": "start", "frame": "group", "dx": 10, "offset": 25, "baseline": "alphabetic", "fontSize": 24, "fontWeight": "bold"}},
 {"width": 263, "height": 207,
  "resolve": {"axis": {"x": "independent", "y": "independent"}},
  "encoding": {
   "x": {"field": "x", "type": "quantitative", "scale": {"domain": [-1.708, 1.7938], "nice": false, "zero": false}, "axis": null},
   "y": {"field": "y", "type": "quantitative", "scale": {"domain": [-2.057, 2.338], "nice": false, "zero": false}, "axis": null}
  },
  "layer": [
   {"data": {"values": [{}]}, "mark": {"type": "rect", "fill": "transparent", "stroke": "black", "strokeWidth": 1}, "encoding": {"x": {"datum": -0.989, "type": "quantitative", "axis": null}, "x2": {"datum": 1.421}, "y": {"datum": -1.144, "type": "quantitative", "axis": null}, "y2": {"datum": 1.786}}},
   {"data": {"name": "a_lines"}, "mark": {"type": "rule", "stroke": "black", "strokeWidth": 1},
    "encoding": {
     "x": {"field": "x", "type": "quantitative", "axis": {"orient": "bottom", "offset": -43, "title": "MDS 1", "values": [-0.5, 0, 0.5, 1], "format": ".1f", "labelFont": "Liberation Serif", "labelFontSize": 12, "titleFont": "Liberation Serif", "titleFontSize": 12.5, "titleFontWeight": "normal", "tickSize": 6, "labelPadding": 8, "domain": false, "grid": false, "titlePadding": 1, "labelOverlap": false, "labelFlush": false}},
     "y": {"field": "y", "type": "quantitative", "axis": {"orient": "left", "offset": -54, "title": "MDS 2", "values": [-1, -0.5, 0, 0.5, 1, 1.5], "labelExpr": "indexof([-1, 0, 1], datum.value) >= 0 ? format(datum.value, '.1f') : ''", "labelAngle": -90, "labelAlign": "center", "labelBaseline": "bottom", "labelFont": "Liberation Serif", "labelFontSize": 12, "titleFont": "Liberation Serif", "titleFontSize": 12.5, "titleFontWeight": "normal", "tickSize": 6, "labelPadding": 10, "domain": false, "grid": false, "titlePadding": 7, "labelOverlap": false, "labelFlush": false}},
     "x2": {"field": "x2"}, "y2": {"field": "y2"}
    }},
   {"data": {"name": "a_lab"}, "mark": {"type": "text", "fontSize": 10.5, "font": "Liberation Serif", "baseline": "middle"}, "encoding": {"text": {"field": "label", "type": "nominal"}}},
   {"data": {"name": "a_pts"}, "transform": [{"filter": "datum.g == 'M stress' || datum.g == 'H stress'"}], "mark": {"type": "point", "filled": true, "color": "black", "size": 30, "opacity": 1}, "encoding": {"shape": {"field": "g", "type": "nominal", "scale": {"domain": ["M stress", "H stress", "M shock", "H shock"], "range": ["diamond", "square", "diamond", "square"]}, "legend": null}}},
   {"data": {"name": "a_pts"}, "transform": [{"filter": "datum.g == 'M shock' || datum.g == 'H shock'"}], "mark": {"type": "point", "filled": true, "fill": "white", "stroke": "black", "strokeWidth": 1, "size": 30, "opacity": 1}, "encoding": {"shape": {"field": "g", "type": "nominal", "scale": {"domain": ["M stress", "H stress", "M shock", "H shock"], "range": ["diamond", "square", "diamond", "square"]}, "legend": null}}},
   {"data": {"name": "a_pts"}, "mark": {"type": "point", "opacity": 0}, "encoding": {"x": {"field": "x", "type": "quantitative", "axis": {"orient": "bottom", "offset": 0, "domain": true, "domainColor": "black", "domainWidth": 2, "ticks": false, "labels": false, "title": null, "grid": false}}, "y": {"field": "y", "type": "quantitative", "axis": {"orient": "right", "offset": 0, "domain": true, "domainColor": "black", "domainWidth": 2, "ticks": false, "labels": false, "title": null, "grid": false}}}}
  ]
 },
 {"width": 0.01, "height": 0.01, "data": {"values": []}, "mark": "point", "title": {"text": "B.vulgaris", "orient": "bottom", "anchor": "start", "frame": "group", "dx": -2, "offset": 232, "baseline": "alphabetic", "fontSize": 16, "fontStyle": "italic"}},
 {"width": 253, "height": 207,
  "resolve": {"axis": {"x": "independent", "y": "independent"}},
  "encoding": {
   "x": {"field": "x", "type": "quantitative", "scale": {"domain": [-0.1899, 0.1958], "nice": false, "zero": false}, "axis": null},
   "y": {"field": "y", "type": "quantitative", "scale": {"domain": [-0.2938, 0.1303], "nice": false, "zero": false}, "axis": null}
  },
  "layer": [
   {"data": {"values": [{}]}, "mark": {"type": "rect", "fill": "transparent", "stroke": "black", "strokeWidth": 1}, "encoding": {"x": {"datum": -0.1152, "type": "quantitative", "axis": null}, "x2": {"datum": 0.1623}, "y": {"datum": -0.1668, "type": "quantitative", "axis": null}, "y2": {"datum": 0.116}}},
   {"data": {"name": "c_ell"}, "transform": [{"filter": "datum.g != '300 mM NaCl'"}], "mark": {"type": "line", "interpolate": "cardinal-closed", "stroke": "#444", "strokeWidth": 0.8},
    "encoding": {
     "x": {"field": "x", "type": "quantitative", "axis": {"orient": "bottom", "offset": -62, "title": "MDS 1", "values": [-0.1, -0.05, 0, 0.05, 0.1], "labelExpr": "indexof([-0.1, 0, 0.1], datum.value) >= 0 ? format(datum.value, '.2f') : ''", "labelFont": "Liberation Serif", "labelFontSize": 12, "titleFont": "Liberation Serif", "titleFontSize": 12.5, "titleFontWeight": "normal", "tickSize": 6, "labelPadding": 8, "domain": false, "grid": false, "titlePadding": 1, "labelOverlap": false, "labelFlush": false}},
     "y": {"field": "y", "type": "quantitative", "axis": {"orient": "left", "offset": -49, "title": "MDS 2", "values": [-0.15, -0.1, -0.05, 0, 0.05, 0.1], "labelExpr": "indexof([-0.15, -0.05, 0.05], datum.value) >= 0 ? format(datum.value, '.2f') : ''", "labelAngle": -90, "labelAlign": "center", "labelBaseline": "bottom", "labelFont": "Liberation Serif", "labelFontSize": 12, "titleFont": "Liberation Serif", "titleFontSize": 12.5, "titleFontWeight": "normal", "tickSize": 6, "labelPadding": 10, "domain": false, "grid": false, "titlePadding": 7, "labelOverlap": false, "labelFlush": false}},
     "detail": {"field": "g", "type": "nominal"}, "order": {"field": "k", "type": "quantitative"}
    }},
   {"data": {"name": "c_ell"}, "transform": [{"filter": "datum.g == '300 mM NaCl'"}], "mark": {"type": "line", "interpolate": "cardinal-closed", "stroke": "black", "strokeWidth": 1.4}, "encoding": {"detail": {"field": "g", "type": "nominal"}, "order": {"field": "k", "type": "quantitative"}}},
   {"data": {"name": "c_pts"}, "mark": {"type": "point", "filled": false, "stroke": "black", "strokeWidth": 0.9, "size": 45, "opacity": 1}, "encoding": {"shape": {"field": "g", "type": "nominal", "scale": {"domain": ["150 mM NaCl", "300 mM NaCl", "control"], "range": ["M-1,0L1,0M0,-1L0,1", "triangle-up", "circle"]}, "legend": null}}},
   {"data": {"name": "c_pts"}, "mark": {"type": "point", "opacity": 0}, "encoding": {"x": {"field": "x", "type": "quantitative", "axis": {"orient": "bottom", "offset": 0, "domain": true, "domainColor": "black", "domainWidth": 2, "ticks": false, "labels": false, "title": null, "grid": false}}, "y": {"field": "y", "type": "quantitative", "axis": {"orient": "right", "offset": 0, "domain": true, "domainColor": "black", "domainWidth": 2, "ticks": false, "labels": false, "title": null, "grid": false}}}}
  ]
 },

 {"width": 0.01, "height": 0.01, "data": {"values": []}, "mark": "point", "title": {"text": "SALT SHOCK -", "orient": "bottom", "anchor": "start", "frame": "group", "dx": 410, "offset": 25, "baseline": "alphabetic", "fontSize": 16}},
 {"width": 257, "height": 254, "data": {"name": "e_heat"},
  "resolve": {"axis": {"x": "independent", "y": "independent"}},
  "encoding": {
   "x": {"field": "col", "type": "nominal", "scale": {"domain": ["150 mM NaCl", "control"], "paddingInner": 0, "paddingOuter": 0.8006, "align": 0.6313}, "axis": null},
   "y": {"field": "row", "type": "nominal", "scale": {"domain": ["150 mM NaCl", "300 mM NaCl"], "paddingInner": 0, "paddingOuter": 0.7572, "align": 0.5594}, "axis": null}
  },
  "layer": [
   {"data": {"values": [{}]}, "mark": {"type": "rect", "fill": "transparent", "stroke": "#b5b5b5", "strokeWidth": 1}, "encoding": {"x": {"datum": "150 mM NaCl", "type": "nominal", "bandPosition": -0.1, "axis": null}, "x2": {"datum": "control", "bandPosition": 1.1}, "y": {"datum": "150 mM NaCl", "type": "nominal", "bandPosition": -0.1, "axis": null}, "y2": {"datum": "300 mM NaCl", "bandPosition": 1.1}}},
   {"mark": {"type": "rect", "stroke": "#8c8c8c", "strokeWidth": 0.6},
    "encoding": {
     "x": {"field": "col", "type": "nominal", "axis": {"orient": "bottom", "offset": -41, "title": null, "labelAngle": 0, "labelFont": "Liberation Serif", "labelFontSize": 9.5, "labelColor": "#333", "labelPadding": 3, "tickSize": 3, "tickColor": "#aaa", "domain": false, "grid": false, "bandPosition": 0.5}},
     "y": {"field": "row", "type": "nominal", "axis": {"orient": "left", "offset": -65, "title": null, "labelExpr": "[slice(datum.label, 0, 6), 'NaCl']", "labelAlign": "center", "labelBaseline": "middle", "labelLineHeight": 9, "labelOffset": -4, "labelFont": "Liberation Serif", "labelFontSize": 9.5, "labelColor": "#333", "labelPadding": 21, "tickSize": 3, "tickColor": "#aaa", "domain": false, "grid": false, "bandPosition": 0.5}},
     "color": {"field": "n", "type": "quantitative", "scale": {"domain": [0, 1300], "range": ["#ffffff", "#00f000"], "interpolate": "rgb"}, "legend": {"title": "n", "orient": "none", "legendX": 226, "legendY": 112, "direction": "vertical", "gradientLength": 39, "gradientThickness": 6, "values": [0, 250, 500, 750, 1000], "titleFontSize": 5, "titleFont": "Liberation Sans", "titlePadding": 1, "labelFontSize": 3.5, "labelFont": "Liberation Sans", "labelOffset": 2, "padding": 0, "gradientStrokeWidth": 0, "labelOverlap": false}}
    }},
   {"mark": {"type": "text", "align": "right", "baseline": "alphabetic", "dx": 27, "dy": -12, "fontSize": 20, "font": "Liberation Serif"}, "encoding": {"text": {"field": "n", "type": "nominal"}}},
   {"mark": {"type": "text", "align": "right", "baseline": "alphabetic", "dx": -11, "dy": 27, "fontSize": 12.5, "font": "Liberation Serif"}, "encoding": {"text": {"field": "down", "type": "nominal"}}},
   {"mark": {"type": "text", "align": "center", "baseline": "alphabetic", "dx": -4, "dy": 27, "fontSize": 12, "font": "DejaVu Sans", "text": "⬇"}},
   {"mark": {"type": "text", "align": "right", "baseline": "alphabetic", "dx": 19, "dy": 27, "fontSize": 12.5, "font": "Liberation Serif"}, "encoding": {"text": {"field": "up", "type": "nominal"}}},
   {"mark": {"type": "text", "align": "center", "baseline": "alphabetic", "dx": 27, "dy": 27, "fontSize": 12, "font": "DejaVu Sans", "text": "⬆"}},
   {"mark": {"type": "point", "opacity": 0}, "encoding": {"x": {"field": "col", "type": "nominal", "axis": {"orient": "bottom", "offset": 0, "domain": true, "domainColor": "black", "domainWidth": 2, "ticks": false, "labels": false, "title": null, "grid": false}}, "y": {"field": "row", "type": "nominal", "axis": {"orient": "left", "offset": 0, "domain": true, "domainColor": "black", "domainWidth": 2, "ticks": false, "labels": false, "title": null, "grid": false}}}},
   {"mark": {"type": "point", "opacity": 0}, "encoding": {"y": {"field": "row", "type": "nominal", "axis": {"orient": "right", "offset": 0, "domain": true, "domainColor": "black", "domainWidth": 2, "ticks": false, "labels": false, "title": null, "grid": false}}}}
  ],
  "title": {"text": "DEGs FDR ≤ 0.01", "orient": "top", "anchor": "start", "align": "center", "frame": "group", "dx": 143.5, "offset": -59, "baseline": "alphabetic", "fontSize": 9.5, "color": "#222"}
 },
 {"width": 0.01, "height": 0.01, "data": {"values": []}, "mark": "point", "title": {"text": "d", "orient": "bottom", "anchor": "start", "frame": "group", "dx": 7, "offset": 26, "baseline": "alphabetic", "fontSize": 24, "fontWeight": "bold"}},
 {"width": 263, "height": 254,
  "resolve": {"axis": {"x": "independent", "y": "independent"}},
  "encoding": {
   "x": {"field": "x", "type": "quantitative", "scale": {"domain": [-0.2678, 0.1685], "nice": false, "zero": false}, "axis": null},
   "y": {"field": "y", "type": "quantitative", "scale": {"domain": [-0.1871, 0.411], "nice": false, "zero": false}, "axis": null}
  },
  "layer": [
   {"data": {"values": [{}]}, "mark": {"type": "rect", "fill": "transparent", "stroke": "black", "strokeWidth": 1}, "encoding": {"x": {"datum": -0.1666, "type": "quantitative", "axis": null}, "x2": {"datum": 0.1386}, "y": {"datum": -0.0599, "type": "quantitative", "axis": null}, "y2": {"datum": 0.2674}}},
   {"data": {"name": "d_ell"}, "transform": [{"filter": "datum.g != '300 mM NaCl'"}], "mark": {"type": "line", "interpolate": "cardinal-closed", "stroke": "#444", "strokeWidth": 0.8},
    "encoding": {
     "x": {"field": "x", "type": "quantitative", "axis": {"orient": "bottom", "offset": -54, "title": "MDS 1", "values": [-0.15, -0.1, -0.05, 0, 0.05, 0.1], "labelExpr": "indexof([-0.15, -0.05, 0.05], datum.value) >= 0 ? format(datum.value, '.2f') : ''", "labelFont": "Liberation Serif", "labelFontSize": 12, "titleFont": "Liberation Serif", "titleFontSize": 12.5, "titleFontWeight": "normal", "tickSize": 6, "labelPadding": 8, "domain": false, "grid": false, "titlePadding": 1, "labelOverlap": false, "labelFlush": false}},
     "y": {"field": "y", "type": "quantitative", "axis": {"orient": "left", "offset": -61, "title": "MDS 2", "values": [-0.05, 0, 0.05, 0.1, 0.15, 0.2, 0.25], "labelExpr": "indexof([-0.05, 0.05, 0.15, 0.25], datum.value) >= 0 ? format(datum.value, '.2f') : ''", "labelAngle": -90, "labelAlign": "center", "labelBaseline": "bottom", "labelFont": "Liberation Serif", "labelFontSize": 12, "titleFont": "Liberation Serif", "titleFontSize": 12.5, "titleFontWeight": "normal", "tickSize": 6, "labelPadding": 10, "domain": false, "grid": false, "titlePadding": 7, "labelOverlap": false, "labelFlush": false}},
     "detail": {"field": "g", "type": "nominal"}, "order": {"field": "k", "type": "quantitative"}
    }},
   {"data": {"name": "d_ell"}, "transform": [{"filter": "datum.g == '300 mM NaCl'"}], "mark": {"type": "line", "interpolate": "cardinal-closed", "stroke": "black", "strokeWidth": 1.4}, "encoding": {"detail": {"field": "g", "type": "nominal"}, "order": {"field": "k", "type": "quantitative"}}},
   {"data": {"name": "d_pts"}, "mark": {"type": "point", "filled": false, "stroke": "black", "strokeWidth": 0.9, "size": 45, "opacity": 1}, "encoding": {"shape": {"field": "g", "type": "nominal", "scale": {"domain": ["150 mM NaCl", "300 mM NaCl", "control"], "range": ["M-1,0L1,0M0,-1L0,1", "triangle-up", "circle"]}, "legend": null}}},
   {"data": {"name": "d_pts"}, "mark": {"type": "point", "opacity": 0}, "encoding": {"x": {"field": "x", "type": "quantitative", "axis": {"orient": "bottom", "offset": 0, "domain": true, "domainColor": "black", "domainWidth": 2, "ticks": false, "labels": false, "title": null, "grid": false}}}}
  ]
 },
 {"width": 0.01, "height": 0.01, "data": {"values": []}, "mark": "point", "title": {"text": "cv. Huzar", "orient": "bottom", "anchor": "start", "frame": "group", "dx": 71, "offset": 25, "baseline": "alphabetic", "fontSize": 16}},
 {"width": 253, "height": 254, "data": {"name": "d_heat"},
  "resolve": {"axis": {"x": "independent", "y": "independent"}},
  "encoding": {
   "x": {"field": "col", "type": "nominal", "scale": {"domain": ["150 mM NaCl", "control"], "paddingInner": 0, "paddingOuter": 0.6968, "align": 0.5048}, "axis": null},
   "y": {"field": "row", "type": "nominal", "scale": {"domain": ["150 mM NaCl", "300 mM NaCl"], "paddingInner": 0, "paddingOuter": 0.6933, "align": 0.5337}, "axis": null}
  },
  "layer": [
   {"data": {"values": [{}]}, "mark": {"type": "rect", "fill": "transparent", "stroke": "#b5b5b5", "strokeWidth": 1}, "encoding": {"x": {"datum": "150 mM NaCl", "type": "nominal", "bandPosition": -0.1, "axis": null}, "x2": {"datum": "control", "bandPosition": 1.1}, "y": {"datum": "150 mM NaCl", "type": "nominal", "bandPosition": -0.1, "axis": null}, "y2": {"datum": "300 mM NaCl", "bandPosition": 1.1}}},
   {"mark": {"type": "rect", "stroke": "#8c8c8c", "strokeWidth": 0.6},
    "encoding": {
     "x": {"field": "col", "type": "nominal", "axis": {"orient": "bottom", "offset": -41, "title": null, "labelAngle": 0, "labelFont": "Liberation Serif", "labelFontSize": 9.5, "labelColor": "#333", "labelPadding": 3, "tickSize": 3, "tickColor": "#aaa", "domain": false, "grid": false, "bandPosition": 0.5}},
     "y": {"field": "row", "type": "nominal", "axis": {"orient": "left", "offset": -45, "title": null, "labelExpr": "[slice(datum.label, 0, 6), 'NaCl']", "labelAlign": "center", "labelBaseline": "middle", "labelLineHeight": 9, "labelOffset": -4, "labelFont": "Liberation Serif", "labelFontSize": 9.5, "labelColor": "#333", "labelPadding": 25, "tickSize": 3, "tickColor": "#aaa", "domain": false, "grid": false, "bandPosition": 0.5}},
     "color": {"field": "n", "type": "quantitative", "scale": {"domain": [0, 1300], "range": ["#ffffff", "#00f000"], "interpolate": "rgb"}, "legend": {"title": "n", "orient": "none", "legendX": 213, "legendY": 108, "direction": "vertical", "gradientLength": 39, "gradientThickness": 6, "values": [0, 250, 500, 750, 1000], "titleFontSize": 5, "titleFont": "Liberation Sans", "titlePadding": 1, "labelFontSize": 3.5, "labelFont": "Liberation Sans", "labelOffset": 2, "padding": 0, "gradientStrokeWidth": 0, "labelOverlap": false}}
    }},
   {"mark": {"type": "text", "align": "right", "baseline": "alphabetic", "dx": 29, "dy": -12, "fontSize": 20, "font": "Liberation Serif"}, "encoding": {"text": {"field": "n", "type": "nominal"}}},
   {"mark": {"type": "text", "align": "right", "baseline": "alphabetic", "dx": -11, "dy": 28, "fontSize": 12.5, "font": "Liberation Serif"}, "encoding": {"text": {"field": "down", "type": "nominal"}}},
   {"mark": {"type": "text", "align": "center", "baseline": "alphabetic", "dx": -4, "dy": 28, "fontSize": 12, "font": "DejaVu Sans", "text": "⬇"}},
   {"mark": {"type": "text", "align": "right", "baseline": "alphabetic", "dx": 19, "dy": 28, "fontSize": 12.5, "font": "Liberation Serif"}, "encoding": {"text": {"field": "up", "type": "nominal"}}},
   {"mark": {"type": "text", "align": "center", "baseline": "alphabetic", "dx": 27, "dy": 28, "fontSize": 12, "font": "DejaVu Sans", "text": "⬆"}},
   {"mark": {"type": "point", "opacity": 0}, "encoding": {"x": {"field": "col", "type": "nominal", "axis": {"orient": "bottom", "offset": 0, "domain": true, "domainColor": "black", "domainWidth": 2, "ticks": false, "labels": false, "title": null, "grid": false}}, "y": {"field": "row", "type": "nominal", "axis": {"orient": "right", "offset": 0, "domain": true, "domainColor": "black", "domainWidth": 2, "ticks": false, "labels": false, "title": null, "grid": false}}}}
  ],
  "title": {"text": "DEGs FDR ≤ 0.01", "orient": "top", "anchor": "start", "align": "center", "frame": "group", "dx": 127, "offset": -55, "baseline": "alphabetic", "fontSize": 9.5, "color": "#222"}
 }
]
}
